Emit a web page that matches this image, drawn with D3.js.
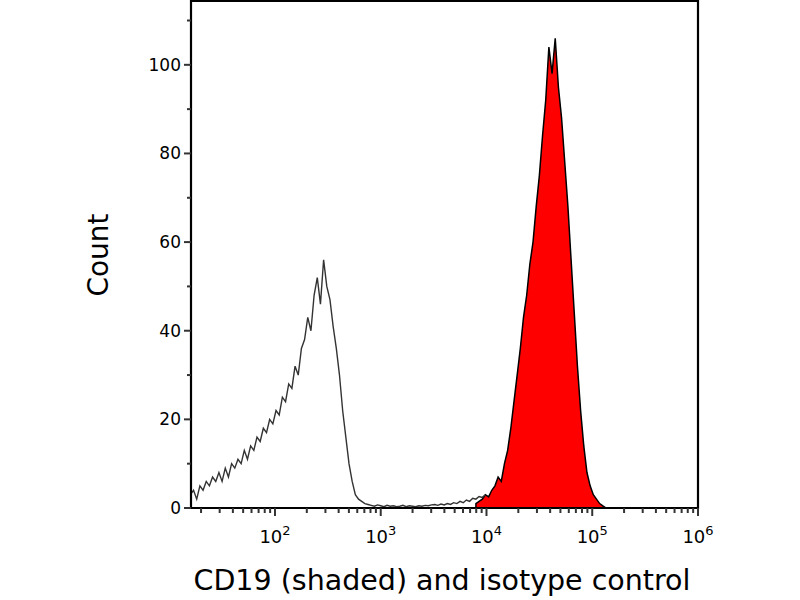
<!DOCTYPE html><html><head><meta charset="utf-8"><script src="https://cdn.jsdelivr.net/npm/d3@7"></script>
<style>body{margin:0;background:#fff}text{font-family:"DejaVu Sans",sans-serif}</style></head><body><svg id="c" width="800" height="600"></svg>
<script>
const isoStart=1.2, step=0.03;
const isoCounts=[3,4,2,5,4,6,5,7,6,8,6,9,7,10,9,11,10,13,11,14,13,16,15,18,17,20,19,22,21,25,24,28,27,32,30,36,38,43,40,48,52,46,56,50,47,41,36,30,22,16,10,6,3,2,1.5,1,0.8,0.6,0.4,0.7,0.5,0.3,0.6,0.4,0.5,0.3,0.4,0.6,0.3,0.5,0.4,0.3,0.5,0.4,0.6,0.5,0.7,0.8,0.6,0.9,0.7,1,0.8,1.2,1,1.5,1.2,1.8,1.5,2.2,2,2.6,2.4,3];
const cdStart=3.9;
const cdCounts=[1,1.5,2,3,2.5,4,5,7,6,10,13,18,24,30,36,43,48,55,60,68,75,84,92,104,98,106,95,88,78,68,56,44,32,22,14,8,5,3,2,1,0.5,0];
const xTicks=[2,3,4,5,6];
const yTicks=[0,20,40,60,80,100];
const svg=d3.select("#c");
const L=191,R=698,T=1,B=508;
const x=d3.scaleLinear().domain([1.206,6]).range([L,R]);
const y=d3.scaleLinear().domain([0,114.4]).range([B,T]);
const iso=isoCounts.map((v,i)=>[isoStart+i*step,v]);
const cd=cdCounts.map((v,i)=>[cdStart+i*step,v]);
svg.append("path").datum(cd).attr("fill","#ff0000").attr("stroke","#000").attr("stroke-width",1.5)
 .attr("d",d3.area().x(d=>x(d[0])).y0(B).y1(d=>y(d[1])));
svg.append("path").datum(iso).attr("fill","none").attr("stroke","#333").attr("stroke-width",1.4)
 .attr("d",d3.line().x(d=>x(d[0])).y(d=>y(d[1])));
const g=svg.append("g");
g.append("path").attr("d",`M${L},${T}H${R}V${B}H${L}Z`).attr("fill","none").attr("stroke","#000").attr("stroke-width",2.2);
for(let v=10;v<=110;v+=10){const maj=v%20==0&&v<=100;g.append("line").attr("x1",L).attr("x2",L-(maj?7:4)).attr("y1",y(v)).attr("y2",y(v)).attr("stroke","#333").attr("stroke-width",2);}
g.append("line").attr("x1",L).attr("x2",L-7).attr("y1",y(0)).attr("y2",y(0)).attr("stroke","#333").attr("stroke-width",2);
yTicks.forEach(v=>g.append("text").attr("x",L-10).attr("y",y(v)+6).attr("text-anchor","end").attr("font-size",17).text(v));
for(let d=1;d<6;d++)for(let m=1;m<10;m++){const lv=d+Math.log10(m);if(lv<1.206)continue;g.append("line").attr("x1",x(lv)).attr("x2",x(lv)).attr("y1",B).attr("y2",B+(m==1?8:5)).attr("stroke","#333").attr("stroke-width",2);}
g.append("line").attr("x1",x(6)).attr("x2",x(6)).attr("y1",B).attr("y2",B+8).attr("stroke","#333").attr("stroke-width",2);
xTicks.forEach(p=>{const t=g.append("text").attr("x",x(p)).attr("y",B+35).attr("text-anchor","middle").attr("font-size",18);t.append("tspan").text("10");t.append("tspan").attr("dy",-8).attr("font-size",13).text(p);});
svg.append("text").attr("transform","translate(108,255) rotate(-90)").attr("text-anchor","middle").attr("font-size",28).text("Count");
svg.append("text").attr("x",442).attr("y",590).attr("text-anchor","middle").attr("font-size",28.5).text("CD19 (shaded) and isotype control");
</script></body></html>
